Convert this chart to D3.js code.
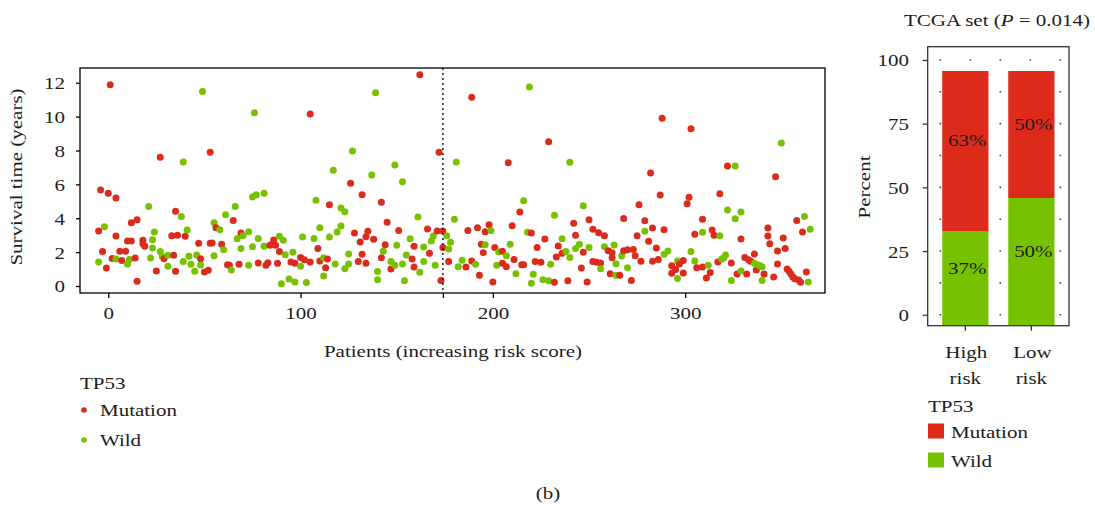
<!DOCTYPE html>
<html><head><meta charset="utf-8">
<script src="https://cdn.jsdelivr.net/npm/d3@7"></script>
<style>
body{margin:0;background:#fff}
svg{display:block}
text{font-family:"Liberation Serif","Times New Roman",serif;fill:#1d1d1b}
</style></head>
<body><svg id="c" width="1095" height="514"></svg>
<script>
// ---------------- data ----------------
const mutationPoints = [
[1,11.88],[53,7.89],[-4,5.67],[0,5.47],[4,5.19],[35,4.41],[-5,3.25],[12,3.74],[15,3.91],[4,2.95],[10,2.66],[12,2.66],[18,2.7],[18,2.5],[19,2.34],[33,2.97],[36,2.99],[40,2.93],[47,2.52],[53,2.52],[-3,2.03],[-1,1.06],[2,1.63],[6,2.05],[7,1.5],[9,2.05],[14,1.65],[15,0.28],[29,1.61],[34,1.81],[25,0.89],[35,0.87],[48,1.61],[50,0.83],[52,0.93],[27,7.6],
[105,10.15],[115,4.8],[65,3.86],[56,3.44],[54,2.54],[59,2.46],[69,3.13],[84,2.4],[85,2.45],[87,2.4],[86,2.72],[89,2.03],[109,2.22],[114,1.59],[110,1.48],[113,1.08],[100,1.69],[102,1.55],[105,1.42],[95,1.42],[97,1.34],[62,1.26],[63,1.22],[68,1.28],[78,1.36],[82,1.22],[83,1.38],[88,1.34],
[162,12.47],[172,7.89],[126,6.06],[132,5.39],[142,4.94],[145,3.76],[128,3.13],[131,2.6],[135,3.23],[134,2.91],[138,2.76],[151,3.28],[166,3.36],[171,3.25],[174,3.25],[174,2.28],[144,2.44],[159,2.34],[167,1.93],[142,1.67],[132,1.87],[130,1.44],[134,1.34],[158,1.59],[159,1.12],[147,1.0],[177,1.44],[173,0.33],
[189,11.14],[229,8.52],[208,7.28],[214,4.37],[242,3.7],[210,3.56],[192,3.44],[187,3.28],[198,3.62],[196,3.21],[220,3.13],[243,2.99],[227,2.77],[194,2.46],[201,2.28],[223,2.28],[234,2.36],[195,1.97],[205,2.05],[236,1.93],[233,1.71],[247,1.99],[211,1.57],[189,1.48],[186,1.12],[205,1.34],[207,1.14],[215,1.26],[216,1.26],[222,1.44],[225,1.4],[246,1.06],[193,0.63],[200,0.24],[232,0.22],[239,0.31],[249,0.24],
[288,9.9],[303,9.29],[282,6.67],[287,5.37],[302,5.24],[301,4.86],[276,4.8],[250,3.91],[268,3.99],[279,3.85],[309,3.94],[252,3.35],[255,3.15],[258,2.97],[283,3.42],[289,3.32],[275,2.97],[281,2.64],[305,3.05],[260,2.08],[262,1.97],[262,1.67],[268,2.08],[270,2.14],[273,2.16],[274,1.79],[277,1.46],[285,2.24],[283,1.46],[286,1.56],[299,1.5],[293,1.2],[295,0.98],[297,1.3],[293,0.75],[299,0.77],[306,1.08],[309,1.12],[311,0.47],[252,1.44],[254,1.4],[256,1.36],[261,0.73],[266,0.63],[272,0.33],
[322,7.08],[347,6.45],[318,5.45],[358,3.87],[343,3.42],[361,3.19],[343,2.95],[351,2.83],[344,2.5],[352,2.22],[348,2.06],[314,3.31],[315,2.99],[329,2.77],[336,1.89],[331,1.69],[333,1.55],[334,1.46],[317,1.42],[324,1.36],[348,1.3],[337,0.94],[341,0.71],[327,0.71],[332,0.71],[313,0.79],[346,0.53],[353,1.0],[354,0.87],[355,0.71],[356,0.53],[357,0.43],[359,0.35],[360,0.22],[363,0.83]
];
const wildPoints = [
[49,11.49],[39,7.32],[21,4.7],[38,4.11],[-2,3.5],[24,3.19],[23,2.73],[23,2.24],[41,3.3],[-5,1.42],[4,1.59],[10,1.3],[11,1.57],[22,1.65],[27,2.03],[28,1.75],[31,1.81],[31,1.16],[39,1.44],[42,1.75],[43,1.28],[45,0.87],[46,1.83],[48,1.24],
[76,10.23],[117,6.83],[75,5.25],[77,5.39],[81,5.47],[66,4.7],[108,5.06],[61,4.21],[55,3.74],[58,3.32],[110,3.44],[55,1.79],[60,2.14],[73,3.21],[70,2.97],[67,2.79],[69,2.22],[75,2.32],[78,2.81],[81,2.34],[89,2.93],[91,2.7],[92,1.85],[96,1.99],[101,2.89],[107,2.81],[115,2.89],[112,1.67],[112,0.59],[100,1.16],[64,0.94],[73,1.22],[90,0.14],[94,0.41],[97,0.24],[103,0.2],
[139,11.41],[181,7.32],[127,7.97],[149,7.14],[137,6.55],[153,6.16],[121,4.6],[123,4.39],[161,4.07],[180,3.94],[121,3.54],[119,3.19],[169,2.95],[168,2.66],[176,2.97],[178,2.58],[177,2.18],[157,2.79],[150,2.4],[164,2.3],[143,2.05],[125,1.89],[118,1.3],[125,1.3],[123,1.02],[155,1.83],[147,1.44],[149,1.22],[153,1.3],[164,1.44],[170,1.22],[182,1.14],[140,0.85],[140,0.37],[154,0.31],[162,0.81],
[219,11.75],[240,7.3],[216,5.04],[247,4.74],[232,4.17],[199,3.28],[218,3.17],[236,2.79],[196,2.44],[209,2.46],[245,2.46],[243,2.22],[203,2.01],[207,1.79],[238,2.03],[240,1.69],[184,1.52],[191,1.28],[202,1.22],[230,1.28],[212,0.73],[221,0.69],[220,0.16],[226,0.37],[229,0.31],
[279,3.23],[309,3.17],[250,2.28],[258,2.32],[263,2.42],[267,1.77],[289,1.87],[291,2.06],[303,2.03],[305,1.48],[296,1.48],[296,0.45],[312,1.22],[256,1.02],[264,1.32],[270,1.08],[264,0.63],
[350,8.44],[326,7.08],[322,4.49],[329,4.37],[326,3.97],[362,4.11],[365,3.35],[318,2.97],[321,1.83],[320,1.67],[319,1.59],[336,1.34],[338,1.24],[339,1.18],[340,1.14],[329,0.89],[324,0.33],[340,0.33],[364,0.24]
];
const riskCutoff = 174;
const xTicks = [0, 100, 200, 300];
const yTicks = [0, 2, 4, 6, 8, 10, 12];

const riskGroups = ["High risk", "Low risk"];
const mutationPct = [63, 50];
const wildPct = [37, 50];
const pctTicks = [0, 25, 50, 75, 100];
const statusKeys = ["Mutation", "Wild"];

// ---------------- styles ----------------
const colors = {Mutation: "#dc2b1b", Wild: "#77c200"};
const SX = 1.2, FS = 17.5;
const svg = d3.select("#c");

function label(g, x, y, s, anchor = "start", rot = 0) {
  return g.append("text")
    .attr("transform", `translate(${x},${y}) rotate(${rot}) scale(${SX},1)`)
    .attr("text-anchor", anchor).style("font-size", FS + "px").text(s);
}
function styleAxisText(sel, x, y, dy, anchor) {
  sel.selectAll("text").attr("x", x).attr("y", y).attr("dy", dy)
    .attr("transform", `scale(${SX},1)`).attr("text-anchor", anchor)
    .style("font-size", FS + "px").style("font-family", '"Liberation Serif",serif').attr("fill", "#1d1d1b");
}

// ---------------- scatter ----------------
const xS = d3.scaleLinear().domain([-14.7, 372.7]).range([80, 825]);
const yS = d3.scaleLinear().domain([-0.413, 12.87]).range([293, 68]);

const pts = mutationPoints.map(d => ({i: d[0], v: d[1], s: "Mutation"}))
  .concat(wildPoints.map(d => ({i: d[0], v: d[1], s: "Wild"})))
  .sort((a, b) => a.i - b.i);

svg.append("g").selectAll("circle").data(pts).join("circle")
  .attr("cx", d => xS(d.i)).attr("cy", d => yS(d.v)).attr("r", 3.5)
  .attr("fill", d => colors[d.s]);

svg.append("line").attr("x1", xS(riskCutoff)).attr("x2", xS(riskCutoff))
  .attr("y1", yS.range()[1]).attr("y2", yS.range()[0])
  .attr("stroke", "#000").attr("stroke-width", 1.3).attr("stroke-dasharray", "2,3");

svg.append("rect").attr("x", 80).attr("y", 68).attr("width", 745).attr("height", 225)
  .attr("fill", "none").attr("stroke", "#000").attr("stroke-width", 1.3);

const gx = svg.append("g").attr("transform", "translate(0,293)")
  .call(d3.axisBottom(xS).tickValues(xTicks.concat([riskCutoff])).tickSize(5).tickFormat(d => d === riskCutoff ? "" : d));
gx.select(".domain").remove();
gx.selectAll("line").attr("stroke", "#000").attr("stroke-width", 1.3);
styleAxisText(gx, 0, 26, 0, "middle");

const gy = svg.append("g").attr("transform", "translate(80,0)")
  .call(d3.axisLeft(yS).tickValues(yTicks).tickSize(4));
gy.select(".domain").remove();
gy.selectAll("line").attr("stroke", "#000").attr("stroke-width", 1.3);
styleAxisText(gy, -15 / SX, 0, "0.34em", "end");

label(svg, 453, 357, "Patients (increasing risk score)", "middle");
label(svg, 22, 177, "Survival time (years)", "middle", -90);

// scatter legend
label(svg, 80, 389, "TP53");
statusKeys.forEach((k, j) => {
  svg.append("circle").attr("cx", 84).attr("cy", 410 + j * 30).attr("r", 2.8).attr("fill", colors[k]);
  label(svg, 100, 416 + j * 30, k);
});

// ---------------- bar chart ----------------
const xB = d3.scaleBand().domain(riskGroups).range([927.7, 1069]).paddingInner(0.3).paddingOuter(0.22);
const yPct = d3.scaleLinear().domain([-4.3, 105.2]).range([325.7, 46.7]);
const yFill = d3.scaleLinear().domain([0, 100]).range([325, 71]);

// dotted grid
svg.append("g").selectAll("line").data(d3.range(0, 100.1, 12.5)).join("line")
  .attr("x1", 939.5).attr("x2", 1069).attr("y1", d => yPct(d)).attr("y2", d => yPct(d))
  .attr("stroke", "#444").attr("stroke-width", 1.6).attr("stroke-dasharray", "1.6,28.4");

const rows = riskGroups.map((g, j) => ({group: g, Wild: wildPct[j], Mutation: mutationPct[j]}));
const stack = d3.stack().keys(["Wild", "Mutation"])(rows);
const gb = svg.append("g");
stack.forEach(layer => {
  gb.selectAll(null).data(layer).join("rect")
    .attr("x", d => xB(d.data.group)).attr("width", xB.bandwidth())
    .attr("y", d => yFill(d[1])).attr("height", d => yFill(d[0]) - yFill(d[1]))
    .attr("fill", colors[layer.key]);
  layer.forEach(d => {
    label(gb, xB(d.data.group) + xB.bandwidth() / 2 + 2, yPct((d[0] + d[1]) / 2) + 6, d.data[layer.key] + "%", "middle");
  });
});

svg.append("rect").attr("x", 927.7).attr("y", 46.7).attr("width", 141.3).attr("height", 279)
  .attr("fill", "none").attr("stroke", "#333").attr("stroke-width", 1.3);

const gpy = svg.append("g").attr("transform", "translate(927.7,0)")
  .call(d3.axisLeft(yPct).tickValues(pctTicks).tickSize(5));
gpy.select(".domain").remove();
gpy.selectAll("line").attr("stroke", "#333").attr("stroke-width", 1.3);
styleAxisText(gpy, -18.7 / SX, 0, "0.34em", "end");

const gpx = svg.append("g").attr("transform", "translate(0,325.7)")
  .call(d3.axisBottom(xB).tickSize(5));
gpx.select(".domain").remove();
gpx.selectAll("line").attr("stroke", "#333").attr("stroke-width", 1.3);
gpx.selectAll("text").remove();
riskGroups.forEach(g => {
  const [a, b] = g.split(" ");
  const cx = xB(g) + xB.bandwidth() / 2;
  label(svg, cx + 1, 358, a, "middle");
  label(svg, cx, 383.5, b, "middle");
});

// title
const tt = svg.append("text").attr("transform", `translate(997,26) scale(${SX},1)`)
  .attr("text-anchor", "middle").style("font-size", FS + "px");
tt.append("tspan").text("TCGA set (");
tt.append("tspan").style("font-style", "italic").text("P");
tt.append("tspan").text(" = 0.014)");

label(svg, 870, 187, "Percent", "middle", -90);

// bar legend
label(svg, 928, 411.5, "TP53");
statusKeys.forEach((k, j) => {
  svg.append("rect").attr("x", 928).attr("y", 423.5 + j * 29).attr("width", 16).attr("height", 15).attr("fill", colors[k]);
  label(svg, 951, 437.5 + j * 29, k);
});

label(svg, 548, 499, "(b)", "middle");
</script></body></html>
